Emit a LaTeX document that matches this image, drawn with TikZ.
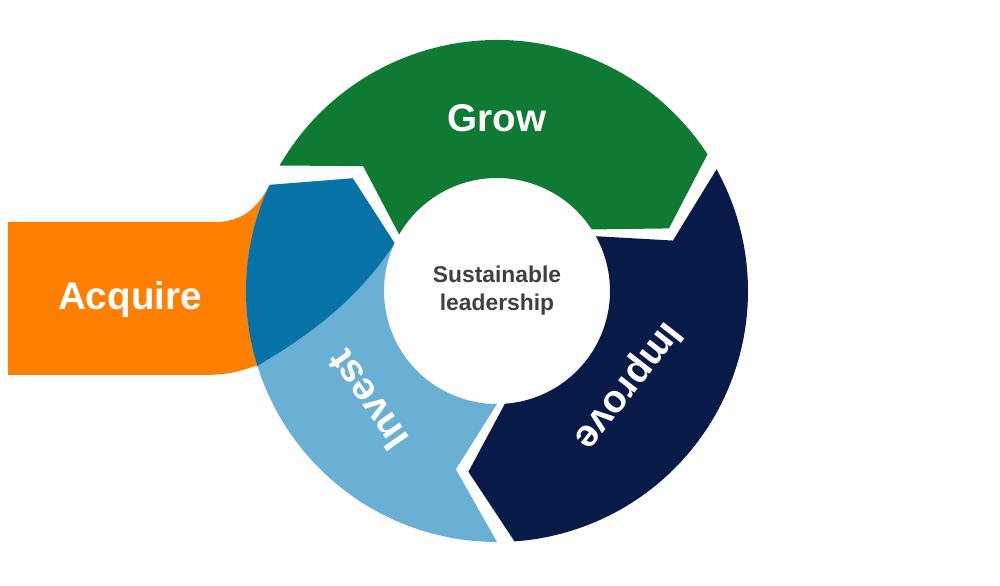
\documentclass[tikz,border=0pt]{standalone}
\usepackage{fontspec}
\setmainfont{Liberation Sans}
\definecolor{cgreen}{RGB}{14,122,52}
\definecolor{cnavy}{RGB}{8,27,72}
\definecolor{clight}{RGB}{105,176,212}
\definecolor{cdark}{RGB}{6,114,166}
\definecolor{corange}{RGB}{255,127,0}
\definecolor{cgray}{RGB}{64,64,64}
\newcommand\segpath[2]{(#1:251) arc[start angle=#1, end angle=#2, radius=251] -- (#2-13:183) -- (#2:113) arc[start angle=#2, end angle=#1, radius=113] -- (#1-13:183) -- cycle}
\tikzset{lbl/.style={text=white, font=\bfseries\fontsize{22}{26}\selectfont}}
\begin{document}
\begin{tikzpicture}[x=0.02cm,y=0.02cm]
\useasboundingbox (0,0) rectangle (1000,585);
% orange band
\fill[corange] (8,363) -- (215,363) .. controls (245,363) and (258,380) .. (268,397) -- (280,370) -- (280,213) -- (255,219) .. controls (235,212) and (225,210) .. (200,210) -- (8,210) -- cycle;
\begin{scope}[shift={(497,294)}]
\fill[cgreen] \segpath{150}{33};
\fill[cnavy] \segpath{29}{-86};
\fill[clight] \segpath{270}{155};
\begin{scope}
\clip \segpath{270}{155};
\fill[cdark] (-240,-75) .. controls (-180,-40) and (-130,0) .. (-95,60) -- (-95,300) -- (-300,300) -- (-300,-75) -- cycle;
\end{scope}
\end{scope}
\node[lbl] (grow) at (497,467) {Grow};
\node[lbl] (acq) at (130,285) {Acquire};
\node[lbl, rotate=-128] (imp) at (627,200) {Improve};
\node[lbl, rotate=125] (inv) at (368,185) {Invest};
\node[text=cgray, font=\bfseries\fontsize{13}{16}\selectfont, align=center] (ctr) at (497,294) {Sustainable\\leadership};
\end{tikzpicture}
\end{document}
